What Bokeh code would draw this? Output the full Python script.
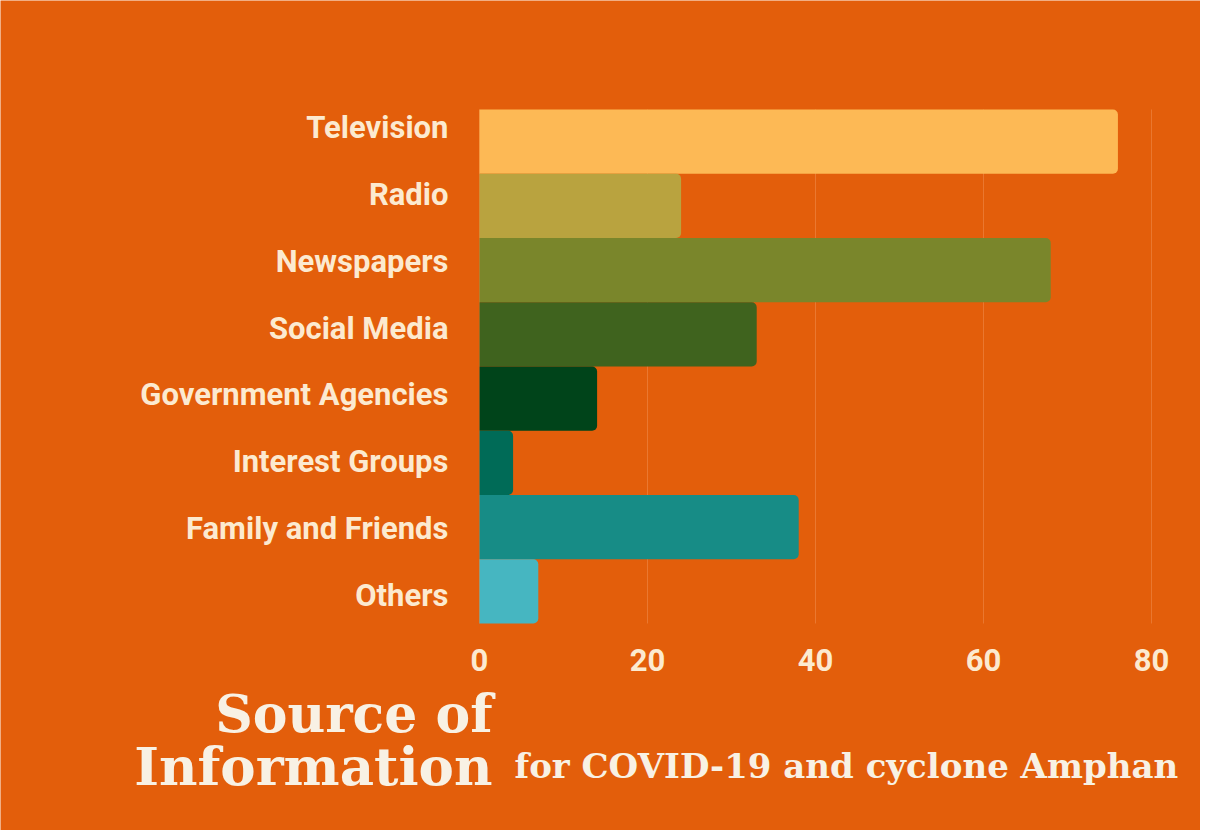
from bokeh.plotting import figure
from bokeh.models import ColumnDataSource, Label, Range1d, FixedTicker, LinearAxis
from bokeh.embed import file_html
from bokeh.resources import INLINE

categories = ["Television", "Radio", "Newspapers", "Social Media",
              "Government Agencies", "Interest Groups", "Family and Friends", "Others"]
values = [76, 24, 68, 33, 14, 4, 38, 7]
colors = ["#FDB955", "#B9A33F", "#7A862B", "#3F631E", "#00441A", "#006B57", "#178C86", "#46B6C1"]
x_ticks = [0, 20, 40, 60, 80]

title_lines = ["Source of", "Information"]
subtitle = "for COVID-19 and cyclone Amphan"

BG = "#E35E0B"
CREAM = "#FCEAD0"
TITLE = "#F8F1E4"

n = len(categories)
pos = [n - i - 0.5 for i in range(n)]
src = ColumnDataSource(dict(cat=categories, pos=pos, val=values, color=colors))
grid_src = ColumnDataSource(dict(x=x_ticks, y0=[0] * len(x_ticks), y1=[n] * len(x_ticks)))

# the plotting frame covers the whole canvas; axes are pinned inside it
p = figure(width=1200, height=830, output_backend="svg", toolbar_location=None,
           x_range=Range1d(-57.02, 85.83), y_range=Range1d(-3.222, 9.6965),
           x_axis_location=None, y_axis_location=None,
           min_border=0, min_border_left=0, min_border_right=0,
           min_border_top=0, min_border_bottom=0)
p.background_fill_color = BG
p.border_fill_color = BG
p.outline_line_color = None
p.grid.visible = False

# vertical grid lines spanning the bar area only
p.segment(x0="x", x1="x", y0="y0", y1="y1", source=grid_src,
          line_color="#F08A4A", line_alpha=0.6, line_width=1)

p.hbar(y="pos", right="val", left=0, height=1.0, color="color", source=src,
       line_color=None, border_radius=(0, 5, 5, 0))

xaxis = LinearAxis(ticker=FixedTicker(ticks=x_ticks), fixed_location=0)
p.add_layout(xaxis, "below")

# category labels are spaced slightly wider than the bars, as in the reference
p.extra_y_ranges = {"lab": Range1d(-3.0148, 9.399)}
lab_axis = LinearAxis(y_range_name="lab", ticker=FixedTicker(ticks=pos), fixed_location=0,
                      major_label_overrides={k: c for k, c in zip(pos, categories)})
p.add_layout(lab_axis, "left")

for ax in (xaxis, lab_axis):
    ax.axis_line_color = None
    ax.major_tick_line_color = None
    ax.minor_tick_line_color = None
    ax.major_label_text_color = CREAM
    ax.major_label_text_font = "Roboto"
    ax.major_label_text_font_style = "bold"
    ax.major_label_text_font_size = "31px"

lab_axis.major_label_standoff = 25
xaxis.major_label_standoff = 20

common = dict(x_units="screen", y_units="screen", text_font="DejaVu Serif",
              text_font_style="bold", text_color=TITLE, text_baseline="alphabetic")
p.add_layout(Label(x=492, y=117, text=title_lines[0], text_align="right",
                   text_font_size="52px", **common))
p.add_layout(Label(x=492, y=65, text=title_lines[1], text_align="right",
                   text_font_size="53px", **common))
p.add_layout(Label(x=514, y=65, text=subtitle, text_align="left",
                   text_font_size="34px", **common))

open("out.html", "w").write(file_html(p, INLINE))
